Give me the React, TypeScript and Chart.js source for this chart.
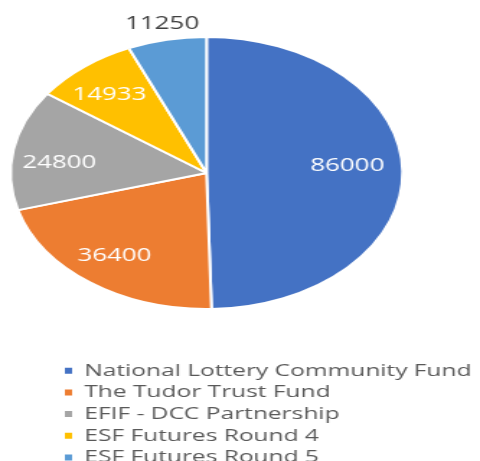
import React, { useEffect, useRef } from "react";
import { Chart, registerables } from "chart.js";

Chart.register(...registerables);

const categories = [
  "National Lottery Community Fund",
  "The Tudor Trust Fund",
  "EFIF - DCC Partnership",
  "ESF Futures Round 4",
  "ESF Futures Round 5",
];
const values = [86000, 36400, 24800, 14933, 11250];
const colors = ["#4472C4", "#ED7D31", "#A5A5A5", "#FFC000", "#5B9BD5"];
const labelInside = [true, true, true, true, false];

const INNER_W = 333;
const INNER_H = 476;
const SCALE_X = 480 / INNER_W;
const AREA_TOP = -11.5;

const valueLabelPlugin = {
  id: "valueLabels",
  afterLayout(chart: any) {
    // let the legend use the full canvas width so long labels are not clipped
    if (chart.legend) {
      chart.legend.right = INNER_W;
      chart.legend.width = INNER_W - chart.legend.left;
    }
    const ca = chart.chartArea;
    ca.top = AREA_TOP;
    ca.height = ca.bottom - ca.top;
  },
  afterDatasetsDraw(chart: any) {
    const meta = chart.getDatasetMeta(0);
    const ctx = chart.ctx;
    const nudgeY = [-6, 0, 8, 2, 0];
    const nudgeX = [-5, -3, -1, -3, 0];
    ctx.save();
    ctx.font = '18px "Open Sans"';
    ctx.textAlign = "center";
    ctx.textBaseline = "middle";
    meta.data.forEach((arc: any, i: number) => {
      const { x, y, startAngle, endAngle, outerRadius } = arc.getProps(
        ["x", "y", "startAngle", "endAngle", "outerRadius"],
        true
      );
      const mid = (startAngle + endAngle) / 2;
      const r = labelInside[i] ? outerRadius * 0.755 : outerRadius * 1.12;
      ctx.fillStyle = labelInside[i] ? "#FFFFFF" : "#404040";
      ctx.fillText(
        String(values[i]),
        x + Math.cos(mid) * r + nudgeX[i],
        y + Math.sin(mid) * r + nudgeY[i]
      );
    });
    ctx.restore();
  },
};

export default function App() {
  const ref = useRef<HTMLCanvasElement | null>(null);
  useEffect(() => {
    if (!ref.current) return;
    const chart = new Chart(ref.current, {
      type: "pie",
      data: {
        labels: categories,
        datasets: [
          {
            data: values,
            backgroundColor: colors,
            borderColor: "#FFFFFF",
            borderWidth: 2,
            radius: 136,
            clip: false,
          } as any,
        ],
      },
      options: {
        responsive: false,
        animation: false,
        devicePixelRatio: 1,
        layout: { padding: { top: 0, left: 40.3, right: 86.7, bottom: 0 } },
        plugins: {
          tooltip: { enabled: false },
          legend: {
            display: true,
            position: "bottom",
            align: "start",
            labels: {
              boxWidth: 5,
              boxHeight: 6,
              padding: 4.7,
              color: "#595959",
              font: { family: '"Open Sans"', size: 17 },
              generateLabels: () =>
                categories.map((t, i) => ({
                  text: t,
                  fillStyle: colors[i],
                  strokeStyle: colors[i],
                  lineWidth: 0,
                  hidden: false,
                  index: i,
                  fontColor: "#595959",
                })),
            },
          },
        },
      } as any,
      plugins: [valueLabelPlugin],
    });
    return () => chart.destroy();
  }, []);
  return (
    <div
      style={{
        position: "fixed",
        left: 0,
        top: 0,
        width: 480,
        height: 461,
        overflow: "hidden",
        background: "#FFFFFF",
      }}
    >
      <div style={{ transform: `scaleX(${SCALE_X})`, transformOrigin: "0 0", width: INNER_W }}>
        <canvas
          ref={ref}
          width={INNER_W}
          height={INNER_H}
          style={{ width: INNER_W, height: INNER_H, display: "block" }}
        />
      </div>
    </div>
  );
}
